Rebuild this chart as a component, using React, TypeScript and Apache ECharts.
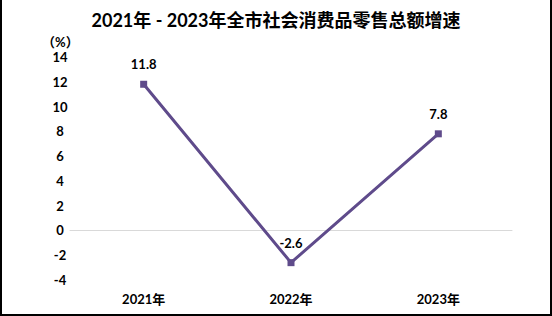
import React, { useEffect, useRef } from "react";
import * as echarts from "echarts";

const categories = ["2021年", "2022年", "2023年"];
const growth = [11.8, -2.6, 7.8];
const titleText = "2021年 - 2023年全市社会消费品零售总额增速";
const unitText = "（%）";

export default function App() {
  const ref = useRef<HTMLDivElement>(null);
  useEffect(() => {
    document.body.style.margin = "0";
    const chart = echarts.init(ref.current!, null, { renderer: "svg" });
    const font = "Lato, 'Noto Sans CJK SC', sans-serif";
    chart.setOption({
      animation: false,
      backgroundColor: "#ffffff",
      title: {
        text: titleText,
        left: "center",
        top: 6,
        textStyle: { fontSize: 18, fontWeight: "bold", color: "#000", fontFamily: font },
      },
      graphic: [
        {
          type: "text",
          left: 40,
          top: 35,
          style: { text: unitText, fontSize: 13, fontWeight: "bold", fill: "#000", fontFamily: font },
        },
      ],
      grid: { left: 68, right: 38, top: 57, bottom: 34 },
      xAxis: {
        type: "category",
        data: categories,
        boundaryGap: true,
        axisLine: { show: true, lineStyle: { color: "#d9d9d9", width: 1 } },
        axisTick: { show: false },
        axisLabel: { fontSize: 13, fontWeight: "bold", color: "#000", margin: 12, fontFamily: font },
      },
      yAxis: {
        type: "value",
        min: -4,
        max: 14,
        interval: 2,
        axisLine: { show: false },
        axisTick: { show: false },
        splitLine: { show: false },
        axisLabel: { fontSize: 13, fontWeight: "bold", color: "#000", margin: 10, align: "center", fontFamily: font },
      },
      series: [
        {
          type: "line",
          data: growth,
          symbol: "rect",
          symbolSize: 7,
          lineStyle: { color: "#5f4b8b", width: 3 },
          itemStyle: { color: "#5f4b8b" },
          label: {
            show: true,
            position: "top",
            distance: 10,
            fontSize: 13,
            fontWeight: "bold",
            color: "#000",
            fontFamily: font,
          },
        },
      ],
    });
    return () => chart.dispose();
  }, []);
  return (
    <div
      style={{
        position: "absolute",
        left: 0,
        top: 0,
        width: 552,
        height: 316,
        boxSizing: "border-box",
        borderLeft: "2px solid #000",
        borderRight: "2px solid #000",
        borderBottom: "2px solid #000",
        background: "#fff",
      }}
    >
      <div ref={ref} style={{ width: 548, height: 314 }} />
    </div>
  );
}
